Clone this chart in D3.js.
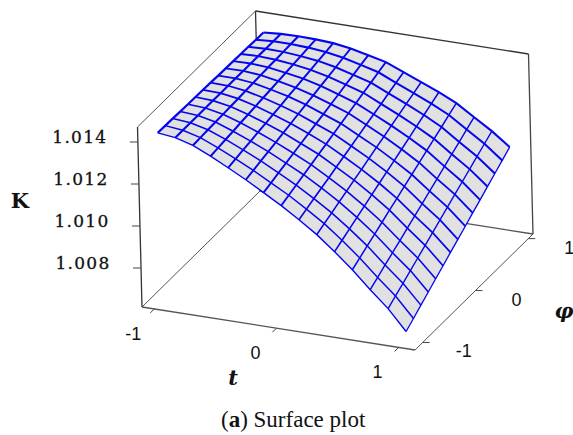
<!DOCTYPE html>
<html>
<head>
<meta charset="utf-8">
<script src="https://cdnjs.cloudflare.com/ajax/libs/d3/7.8.5/d3.min.js"></script>
<style>
    html, body { margin: 0; padding: 0; background: #fff; }
    svg { display: block; }
</style>
</head>
<body>
<svg id="chart" width="573" height="435"></svg>
<script>
// grid positions of the surface
const tValues = [-1, -0.857, -0.714, -0.571, -0.429, -0.286, -0.143, 0, 0.143, 0.286, 0.429, 0.571, 0.714, 0.857, 1];
const phiValues = [-1, -0.857, -0.714, -0.571, -0.429, -0.286, -0.143, 0, 0.143, 0.286, 0.429, 0.571, 0.714, 0.857, 1];

// K, one row per t, one column per phi
const kRow00 = [1.01417, 1.01416, 1.01415, 1.01413, 1.01412, 1.01411, 1.01410, 1.01409, 1.01407, 1.01406, 1.01405, 1.01404, 1.01403, 1.01401, 1.01400];
const kRow01 = [1.01407, 1.01407, 1.01407, 1.01407, 1.01407, 1.01407, 1.01407, 1.01407, 1.01407, 1.01407, 1.01407, 1.01407, 1.01407, 1.01407, 1.01407];
const kRow02 = [1.01383, 1.01385, 1.01387, 1.01389, 1.01390, 1.01392, 1.01394, 1.01396, 1.01398, 1.01400, 1.01402, 1.01403, 1.01405, 1.01407, 1.01409];
const kRow03 = [1.01345, 1.01349, 1.01354, 1.01358, 1.01363, 1.01367, 1.01372, 1.01376, 1.01380, 1.01385, 1.01389, 1.01394, 1.01398, 1.01403, 1.01407];
const kRow04 = [1.01303, 1.01310, 1.01317, 1.01324, 1.01331, 1.01338, 1.01345, 1.01352, 1.01360, 1.01367, 1.01374, 1.01381, 1.01388, 1.01395, 1.01402];
const kRow05 = [1.01259, 1.01268, 1.01278, 1.01287, 1.01296, 1.01306, 1.01315, 1.01325, 1.01334, 1.01343, 1.01353, 1.01362, 1.01371, 1.01381, 1.01390];
const kRow06 = [1.01211, 1.01222, 1.01234, 1.01245, 1.01257, 1.01268, 1.01280, 1.01291, 1.01302, 1.01314, 1.01325, 1.01337, 1.01348, 1.01360, 1.01371];
const kRow07 = [1.01162, 1.01176, 1.01189, 1.01203, 1.01216, 1.01230, 1.01243, 1.01257, 1.01270, 1.01284, 1.01297, 1.01311, 1.01324, 1.01338, 1.01351];
const kRow08 = [1.01108, 1.01123, 1.01138, 1.01153, 1.01167, 1.01182, 1.01197, 1.01212, 1.01227, 1.01242, 1.01257, 1.01271, 1.01286, 1.01301, 1.01316];
const kRow09 = [1.01050, 1.01067, 1.01083, 1.01100, 1.01116, 1.01133, 1.01149, 1.01166, 1.01183, 1.01199, 1.01216, 1.01232, 1.01249, 1.01265, 1.01282];
const kRow10 = [1.00982, 1.01001, 1.01020, 1.01039, 1.01058, 1.01077, 1.01096, 1.01115, 1.01133, 1.01152, 1.01171, 1.01190, 1.01209, 1.01228, 1.01247];
const kRow11 = [1.00909, 1.00930, 1.00952, 1.00973, 1.00994, 1.01016, 1.01037, 1.01059, 1.01080, 1.01101, 1.01123, 1.01144, 1.01165, 1.01187, 1.01208];
const kRow12 = [1.00827, 1.00850, 1.00874, 1.00897, 1.00920, 1.00944, 1.00967, 1.00990, 1.01014, 1.01037, 1.01061, 1.01084, 1.01107, 1.01131, 1.01154];
const kRow13 = [1.00750, 1.00775, 1.00800, 1.00825, 1.00850, 1.00875, 1.00900, 1.00925, 1.00951, 1.00976, 1.01001, 1.01026, 1.01051, 1.01076, 1.01101];
const kRow14 = [1.00654, 1.00681, 1.00709, 1.00736, 1.00764, 1.00791, 1.00819, 1.00846, 1.00873, 1.00901, 1.00928, 1.00956, 1.00983, 1.01010, 1.01038];
const kRows = [kRow00, kRow01, kRow02, kRow03, kRow04, kRow05, kRow06, kRow07, kRow08, kRow09, kRow10, kRow11, kRow12, kRow13, kRow14];

const kTicks = [1.008, 1.010, 1.012, 1.014];
const tTicks = [-1, 0, 1];
const phiTicks = [-1, 0, 1];

let svg = d3.select("#chart");

// the box is an oblique projection: u along t, v along phi, h upwards in pixels
let tScale = d3.scaleLinear().domain([-1, 1]).range([0.045, 0.94]);
let phiScale = d3.scaleLinear().domain([-1, 1]).range([0.065, 0.96]);
let kScale = d3.scaleLinear().domain([1.008, 1.014]).range([39, 165]);
let boxTop = 180;

function project(u, v, h){
    return [142 + u * 273 + v * 118 - h * 0.025,
            307 + u * 43 - v * 116 - h];
}

function drawEdge(a, b, color, width){
    svg.append("path")
        .attr("d", d3.line()([a, b]))
        .attr("fill", "none")
        .attr("stroke", color)
        .attr("stroke-width", width);
}

function drawBox(){
    let color = "#555";
    drawEdge(project(0, 0, 0), project(1, 0, 0), color, 1.3);
    drawEdge(project(1, 0, 0), project(1, 1, 0), color, 1);
    drawEdge(project(0, 0, 0), project(0, 1, 0), color, 1);
    drawEdge(project(0, 1, 0), project(1, 1, 0), color, 1.3);
    drawEdge(project(0, 0, 0), project(0, 0, boxTop), "#333", 1.3);
    drawEdge(project(0, 1, 0), project(0, 1, boxTop), "#333", 1.3);
    drawEdge(project(1, 1, 0), project(1, 1, boxTop), "#444", 1.3);
    drawEdge(project(0, 0, boxTop), project(0, 1, boxTop), color, 1);
    drawEdge(project(0, 1, boxTop), project(1, 1, boxTop), "#333", 1.3);
}

function drawTicks(){
    kTicks.forEach(function(k){
        let p = project(0, 0, kScale(k));
        drawEdge(p, [p[0] - 8, p[1]], "#444", 1);
    });
    tTicks.forEach(function(t){
        let p = project(tScale(t), 0, 0);
        drawEdge(p, [p[0] - 4, p[1] + 4], "#444", 1);
    });
    phiTicks.forEach(function(phi){
        let p = project(1, phiScale(phi), 0);
        drawEdge(p, [p[0] + 7, p[1]], "#444", 1);
    });
}

function surfacePoint(i, j){
    return project(tScale(tValues[i]), phiScale(phiValues[j]), kScale(kRows[i][j]));
}

function drawSurface(){
    let line = d3.line();
    let last = tValues.length - 1;
    let outline = [];
    d3.range(0, last + 1).forEach(function(i){ outline.push(surfacePoint(i, 0)); });
    d3.range(1, last + 1).forEach(function(j){ outline.push(surfacePoint(last, j)); });
    d3.range(last - 1, -1, -1).forEach(function(i){ outline.push(surfacePoint(i, last)); });
    d3.range(last - 1, 0, -1).forEach(function(j){ outline.push(surfacePoint(0, j)); });

    svg.append("path")
        .attr("d", line(outline) + "Z")
        .attr("fill", "#e1e1e1");

    // phi lines get thinner towards the viewer, as in the original
    tValues.forEach(function(t, i){
        svg.append("path")
            .attr("d", line(phiValues.map(function(p, j){ return surfacePoint(i, j); })))
            .attr("fill", "none")
            .attr("stroke", "#0505f0")
            .attr("stroke-width", 2.2 - 0.9 * i / last);
    });
    phiValues.forEach(function(p, j){
        svg.append("path")
            .attr("d", line(tValues.map(function(t, i){ return surfacePoint(i, j); })))
            .attr("fill", "none")
            .attr("stroke", "#0505f0")
            .attr("stroke-width", 1.4 + 0.7 * j / last);
    });
}

function drawLabel(x, y, text, font, size, weight, style, spacing){
    return svg.append("text")
        .attr("x", x)
        .attr("y", y)
        .attr("font-family", font)
        .attr("font-size", size)
        .attr("font-weight", weight)
        .attr("font-style", style)
        .attr("letter-spacing", spacing)
        .attr("fill", "#111")
        .attr("text-anchor", "middle")
        .text(text);
}

function drawLabels(){
    let serif = "'DejaVu Serif', serif";
    let sans = "'Liberation Sans', Arial, sans-serif";
    let times = "'Liberation Serif', 'Times New Roman', serif";
    kTicks.forEach(function(k){
        let p = project(0, 0, kScale(k));
        drawLabel(p[0] - 58, p[1] + 0.5, k.toFixed(3), serif, 17, "normal", "normal", 1.3)
            .attr("stroke", "#111")
            .attr("stroke-width", 0.3);
    });
    tTicks.forEach(function(t){
        let p = project(tScale(t), 0, 0);
        drawLabel(p[0] - 21, p[1] + 31, String(t), sans, 18, "normal", "normal", 0);
    });
    phiTicks.forEach(function(phi){
        let p = project(1, phiScale(phi), 0);
        drawLabel(p[0] + 41, p[1] + 15, String(phi), sans, 18, "normal", "normal", 0);
    });
    drawLabel(20, 208, "K", serif, 21, "bold", "normal", 0);
    drawLabel(233, 385, "t", serif, 21, "bold", "italic", 0);
    drawLabel(564, 318, "\u03c6", serif, 21, "bold", "italic", 0);

    let caption = svg.append("text")
        .attr("x", 221)
        .attr("y", 427)
        .attr("font-family", times)
        .attr("font-size", 23)
        .attr("fill", "#111");
    caption.append("tspan").text("(");
    caption.append("tspan").attr("font-weight", "bold").text("a");
    caption.append("tspan").text(") Surface plot");
}

drawBox();
drawTicks();
drawSurface();
drawLabels();
</script>
</body>
</html>
